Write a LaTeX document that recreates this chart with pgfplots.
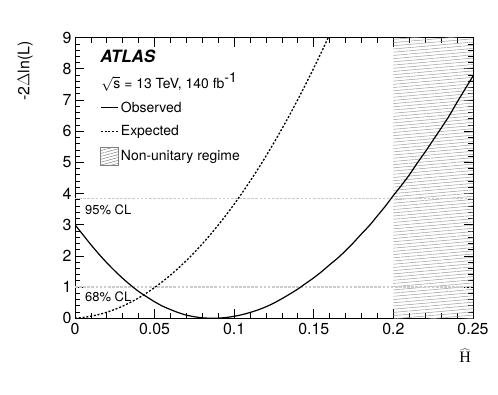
\documentclass[border=0pt]{standalone}
\usepackage{fontspec}
\setmainfont{TeX Gyre Heros}
\newfontfamily\serif{Liberation Serif}
\usepackage{pgfplots}
\pgfplotsset{compat=1.18}
\usetikzlibrary{patterns.meta}

\pgfplotstableread{
x y
0.000 3.00
0.005 2.68
0.010 2.36
0.015 2.06
0.020 1.78
0.025 1.52
0.030 1.28
0.035 1.06
0.040 0.86
0.045 0.69
0.050 0.53
0.055 0.39
0.060 0.28
0.065 0.18
0.070 0.10
0.075 0.05
0.080 0.015
0.086 0.00
0.090 0.005
0.095 0.026
0.100 0.064
0.105 0.117
0.110 0.187
0.115 0.27
0.120 0.37
0.125 0.49
0.130 0.63
0.135 0.78
0.140 0.94
0.145 1.12
0.150 1.30
0.155 1.50
0.160 1.72
0.165 1.93
0.170 2.17
0.175 2.43
0.180 2.71
0.185 2.98
0.190 3.29
0.195 3.60
0.200 3.94
0.205 4.26
0.210 4.60
0.215 4.98
0.220 5.34
0.225 5.72
0.230 6.10
0.235 6.49
0.240 6.93
0.245 7.35
0.250 7.77
}\observed

\pgfplotstableread{
x y
0.000 0.000
0.005 0.027
0.010 0.066
0.015 0.122
0.020 0.195
0.025 0.285
0.030 0.391
0.035 0.515
0.040 0.655
0.045 0.813
0.050 0.987
0.055 1.179
0.060 1.387
0.065 1.612
0.070 1.854
0.075 2.113
0.080 2.389
0.085 2.682
0.090 2.992
0.095 3.318
0.100 3.662
0.105 4.022
0.110 4.400
0.115 4.794
0.120 5.206
0.125 5.634
0.130 6.079
0.135 6.541
0.140 7.020
0.145 7.516
0.150 8.029
0.155 8.559
0.160 9.106
}\expected

\begin{document}
\begin{tikzpicture}
\path (0,0) rectangle (498bp,395bp);
\begin{axis}[
    at={(75bp,76.7bp)}, anchor=south west,
    scale only axis,
    width=398bp, height=280.6bp,
    xmin=0, xmax=0.25, ymin=0, ymax=9,
    xtick={0,0.05,...,0.25},
    ytick={0,1,...,9},
    minor tick num=4,
    tick align=inside,
    major tick length=9bp, minor tick length=5bp,
    axis line style={line width=0.8bp},
    every tick/.style={black, line width=0.8bp},
    tick label style={font=\fontsize{16}{18}\selectfont},
    /pgf/number format/assume math mode=true,
    xticklabel style={/pgf/number format/fixed, yshift=-1bp},
    xlabel={\(\widehat{\mbox{\serif H}}\)},
    xlabel style={at={(axis description cs:0.98,-0.132)}, anchor=center, inner sep=0pt, font=\fontsize{16}{18}\selectfont},
    ylabel={-2\(\Delta\)ln(L)},
    ylabel style={at={(axis description cs:-0.125,1)}, anchor=east, font=\fontsize{16}{18}\selectfont},
    legend cell align=left,
    legend style={draw=none, fill=none, at={(rel axis cs:0.055,0.787)}, anchor=north west,
        font=\fontsize{14}{16}\selectfont, row sep=8bp},
]
\addplot[draw=none, pattern={Lines[angle=5, distance=3.2bp, line width=0.5bp]},
    pattern color=gray!80, forget plot] coordinates {(0.2,9) (0.25,9)} \closedcycle;
\addplot[gray!40, line width=1.8bp, dash pattern=on 2.7bp off 1.4bp, forget plot]
    coordinates {(0,3.84) (0.25,3.84)};
\addplot[gray!40, line width=1.8bp, dash pattern=on 2.7bp off 1.4bp, forget plot]
    coordinates {(0,1) (0.25,1)};
\addplot[black, line width=1.2bp, smooth] table[x=x, y=y] {\observed};
\addlegendentry{Observed}
\addplot[black, line width=1.3bp, dash pattern=on 2bp off 1.8bp, smooth] table[x=x, y=y] {\expected};
\addlegendentry{Expected}
\addlegendimage{legend image code/.code={
    \draw[gray, line width=0.5bp, pattern={Lines[angle=15, distance=2.8bp, line width=0.5bp]}, pattern color=gray]
    (0bp,-9bp) rectangle (18bp,9bp);}}
\addlegendentry{Non-unitary regime}
\node[anchor=west, inner sep=0pt, font=\fontsize{17}{19}\selectfont\bfseries\itshape] at (rel axis cs:0.063,0.932) {ATLAS};
\node[anchor=west, inner sep=0pt, font=\fontsize{14}{16}\selectfont] at (rel axis cs:0.066,0.842)
    {\(\sqrt{\mbox{s}}\) = 13 TeV, 140 fb\(^{\mbox{-1}}\)};
\node[anchor=west, inner sep=0pt, font=\fontsize{13}{15}\selectfont] at (rel axis cs:0.025,0.386) {95\% CL};
\node[anchor=west, inner sep=0pt, font=\fontsize{13}{15}\selectfont] at (rel axis cs:0.025,0.077) {68\% CL};
\end{axis}
\end{tikzpicture}
\end{document}
